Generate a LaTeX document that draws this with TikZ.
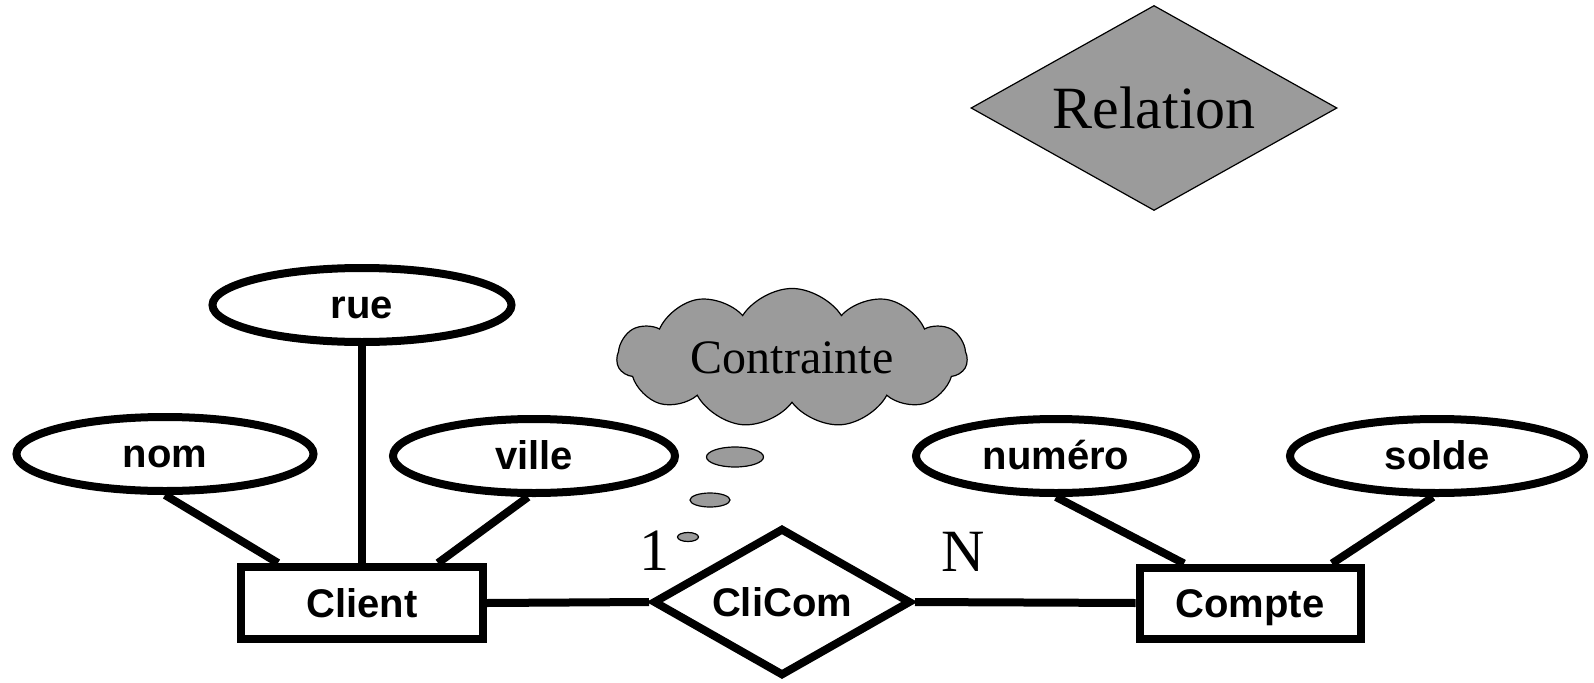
\documentclass[tikz,border=0pt]{standalone}
\usepackage{fontspec}
\setmainfont{Liberation Serif}
\setsansfont{Liberation Sans}
\usetikzlibrary{shapes.geometric,shapes.symbols}
\definecolor{grisfond}{RGB}{155,155,155}

\begin{document}
\begin{tikzpicture}[x=1pt, y=-1pt]
	\tikzset{attr/.style={ellipse, draw=black, line width=8pt, fill=white, inner sep=0pt, minimum height=74pt, text height=30pt, text depth=3pt, font=\sffamily\bfseries\fontsize{40}{48}\selectfont},
		ent/.style={rectangle, draw=black, line width=8pt, fill=white, inner sep=0pt, text height=30pt, text depth=2pt, font=\sffamily\bfseries\fontsize{40}{48}\selectfont},
		rel/.style={diamond, draw=black, inner sep=0pt, shape aspect=2},
		bulle/.style={ellipse, draw=black, line width=1.2pt, fill=grisfond, inner sep=0pt},
		card/.style={inner sep=0pt, font=\fontsize{60}{72}\selectfont},
		lien/.style={line width=8pt}};

	\useasboundingbox (0,0) rectangle (1594,682);

	\node[rel, fill=grisfond, line width=1.2pt, minimum width=366pt, minimum height=205pt, font=\fontsize{60}{72}\selectfont] (relation) at (1154,108) {Relation};

	\node[cloud, cloud puffs=11, cloud puff arc=115, aspect=2.9, draw=black, line width=1.2pt, fill=grisfond, minimum width=350pt, minimum height=116pt, inner sep=0pt, font=\fontsize{48}{56}\selectfont] (contrainte) at (792,358) {Contrainte};
	\node[bulle, minimum width=57pt, minimum height=20pt] (b1) at (735,457) {};
	\node[bulle, minimum width=40pt, minimum height=14pt] (b2) at (710,500) {};
	\node[bulle, minimum width=21pt, minimum height=9pt] (b3) at (688,537) {};

	\node[attr, minimum width=299pt] (rue) at (362,305) {rue};
	\node[attr, minimum width=297pt] (nom) at (165,454) {nom};
	\node[attr, minimum width=282pt] (ville) at (534,456) {ville};
	\node[attr, minimum width=280pt] (numero) at (1056,456) {numéro};
	\node[attr, minimum width=294pt] (solde) at (1437,456) {solde};

	\node[ent, minimum width=242pt, minimum height=72pt] (client) at (362,603) {Client};
	\node[ent, minimum width=221pt, minimum height=71pt] (compte) at (1250,603) {Compte};
	\node[rel, fill=white, line width=8pt, minimum width=258pt, minimum height=148pt, text height=30pt, text depth=2pt, font=\sffamily\bfseries\fontsize{40}{48}\selectfont] (clicom) at (782,602) {CliCom};

	\node[card] (un) at (654,551) {1};
	\node[card] (n) at (963,552) {N};

	\draw[lien] (nom.south) to ([xshift=-84pt]client.north);
	\draw[lien] (rue.south) to (client.north);
	\draw[lien] ([xshift=-6pt]ville.south) to ([xshift=76pt]client.north);
	\draw[lien] (numero.south) to ([xshift=-66pt]compte.north);
	\draw[lien] ([xshift=-4pt]solde.south) to ([xshift=82pt]compte.north);

	\draw[lien] (client.east) to (clicom.west);
	\draw[lien] (clicom.east) to (compte.west);

\end{tikzpicture}
\end{document}
